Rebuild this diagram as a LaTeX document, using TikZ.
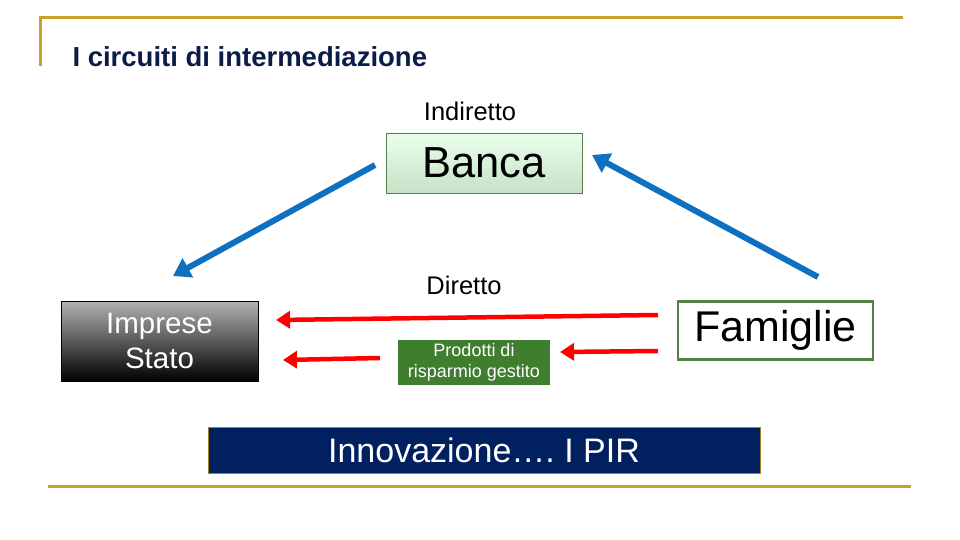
\documentclass[tikz,border=0pt]{standalone}
\usepackage{fontspec}
\setmainfont{Liberation Sans}
\usetikzlibrary{arrows.meta}
\definecolor{gold}{RGB}{201,161,44}
\definecolor{navy}{RGB}{0,32,96}
\definecolor{titleblue}{RGB}{12,28,72}
\definecolor{arrowblue}{RGB}{14,112,190}
\definecolor{boxgreen}{RGB}{62,126,46}
\definecolor{edgegreen}{RGB}{84,130,70}
\tikzset{
	bluearrow/.style={arrowblue, line width=6pt, -{Triangle[length=17pt,width=21pt]}},
	redarrow/.style={red, line width=4.5pt, -{Triangle[length=14pt,width=17pt]}},
}
\begin{document}
\begin{tikzpicture}[x=1pt, y=-1pt]
		\useasboundingbox (0,0) rectangle (960,540);
		% frame lines
		\draw[gold, line width=3pt] (40,66) -- (40,18) -- (903,18);
		\draw[gold, line width=3pt] (48,486) -- (911,486);
		\node [anchor=base west, titleblue, font=\bfseries\fontsize{27.5}{30}\selectfont] (title) at (69,67) {I circuiti di intermediazione};
		\node [font=\fontsize{25.5}{28}\selectfont] (indiretto) at (470,111) {Indiretto};
		\node [font=\fontsize{25.5}{28}\selectfont] (diretto) at (464,285) {Diretto};
		% boxes
		\node [draw=edgegreen, top color=green!8!white, bottom color=green!45!black!22!white, minimum width=196pt, minimum height=60pt, font=\fontsize{43.5}{46}\selectfont] (banca) at (484,163) {Banca};
		\node [draw=black, top color=black!30, bottom color=black, text=white, minimum width=197pt, minimum height=80pt, align=center, font=\fontsize{29.5}{35}\selectfont] (imprese) at (159.5,341) {Imprese\\Stato};
		\node [draw=edgegreen, line width=2.5pt, fill=white, minimum width=195pt, minimum height=58pt, font=\fontsize{43}{46}\selectfont] (famiglie) at (775.5,330.5) {Famiglie};
		\node [fill=boxgreen, text=white, minimum width=152pt, minimum height=45pt, inner sep=1pt, align=center, font=\fontsize{18}{21}\selectfont] (prodotti) at (474,362.5) {Prodotti di\\risparmio gestito};
		\node [draw=gold!80!black, fill=navy, text=white, line width=0.8pt, minimum width=552pt, minimum height=46pt, font=\fontsize{34}{38}\selectfont] (pir) at (484,450) {Innovazione\dots.\ I PIR};
		% arrow ends
		\coordinate (b1) at (375,165);
		\coordinate (b2) at (173,276);
		\coordinate (b3) at (818,277);
		\coordinate (b4) at (592,155);
		\coordinate (r1) at (658,315);
		\coordinate (r2) at (276,320);
		\coordinate (r3) at (380,358);
		\coordinate (r4) at (283,360);
		\coordinate (r5) at (658,351);
		\coordinate (r6) at (560,352);
		\draw[bluearrow] (b1) -- (b2);
		\draw[bluearrow] (b3) -- (b4);
		\draw[redarrow] (r1) -- (r2);
		\draw[redarrow] (r3) -- (r4);
		\draw[redarrow] (r5) -- (r6);
	\end{tikzpicture}
\end{document}
